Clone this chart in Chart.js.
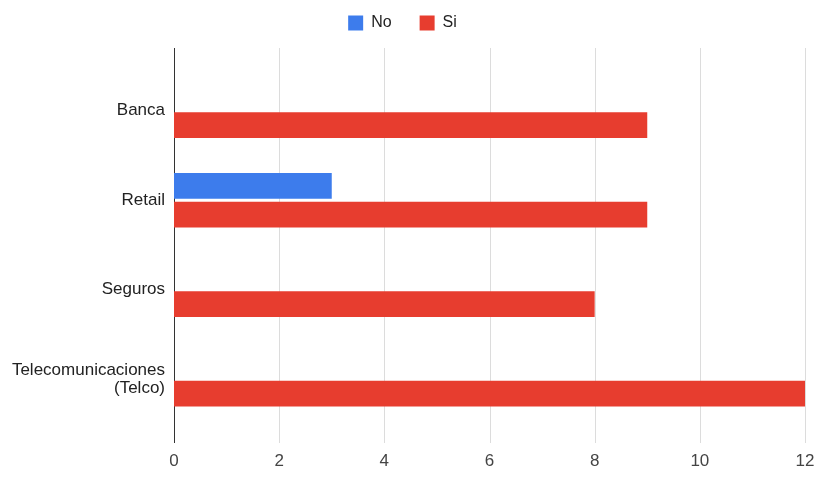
<!DOCTYPE html>
<html>
<head>
<meta charset="utf-8">
<script src="https://cdn.jsdelivr.net/npm/chart.js@4"></script>
<style>
  html, body { margin: 0; padding: 0; background: #fff; }
  #wrap { width: 817px; height: 486px; }
</style>
</head>
<body>
<div id="wrap"><canvas id="chart"></canvas></div>
<script>
// --- data ---
const categories = ['Banca', 'Retail', 'Seguros', ['Telecomunicaciones', '(Telco)']];
const noValues = [0, 3, 0, 0];
const siValues = [9, 9, 8, 12];
const xTicks = [0, 2, 4, 6, 8, 10, 12];

// google-style grid drawn a bit past the plot area, like the original
const extendedGrid = {
    id: 'extendedGrid',
    beforeDatasetsDraw(chart) {
        const { ctx, chartArea, scales } = chart;
        const top = chartArea.top - 18;
        const bottom = chartArea.bottom + 19;
        ctx.save();
        xTicks.forEach(v => {
            const x = Math.round(scales.x.getPixelForValue(v)) + 0.5;
            ctx.strokeStyle = v === 0 ? '#333333' : '#dcdcdc';
            ctx.lineWidth = 1;
            ctx.beginPath();
            ctx.moveTo(x, top);
            ctx.lineTo(x, bottom);
            ctx.stroke();
        });
        ctx.restore();
    }
};

// leave more room between the legend and the plot
const legendGap = {
    id: 'legendGap',
    afterInit(chart) {
        const legend = chart.legend;
        if (!legend) return;
        const fit = legend.fit.bind(legend);
        legend.fit = function () { fit(); this.height += 25; };
    }
};

Chart.defaults.font.family = '"Liberation Sans", Arial, sans-serif';
Chart.defaults.font.size = 17;
Chart.defaults.color = '#444';

new Chart(document.getElementById('chart'), {
    type: 'bar',
    data: {
        labels: categories,
        datasets: [
            { label: 'No', data: noValues, backgroundColor: '#3d7cec' },
            { label: 'Si', data: siValues, backgroundColor: '#e73d2f' }
        ]
    },
    options: {
        indexAxis: 'y',
        responsive: true,
        maintainAspectRatio: false,
        animation: false,
        categoryPercentage: 0.64,
        barPercentage: 0.9,
        layout: { padding: { left: 0, right: 12, top: -13, bottom: 0 } },
        plugins: {
            legend: {
                position: 'top',
                labels: { boxWidth: 15, boxHeight: 15, padding: 28, color: '#222', font: { size: 16 } }
            },
            tooltip: { enabled: false }
        },
        scales: {
            x: {
                min: 0,
                max: 12,
                afterBuildTicks: scale => { scale.ticks = xTicks.map(v => ({ value: v })); },
                afterFit: scale => { scale.paddingLeft = 0; scale.paddingRight = 0; scale.height = 62; },
                grid: { display: false, drawTicks: false },
                border: { display: false },
                ticks: { padding: 27, color: '#444', font: { size: 17 } }
            },
            y: {
                afterFit: scale => { scale.width = 174; scale.paddingTop = 0; scale.paddingBottom = 0; },
                grid: { display: false, drawTicks: false },
                border: { display: false },
                ticks: { padding: 9, color: '#222', font: { size: 17, lineHeight: 1.1 } }
            }
        }
    },
    plugins: [extendedGrid, legendGap]
});
</script>
</body>
</html>
